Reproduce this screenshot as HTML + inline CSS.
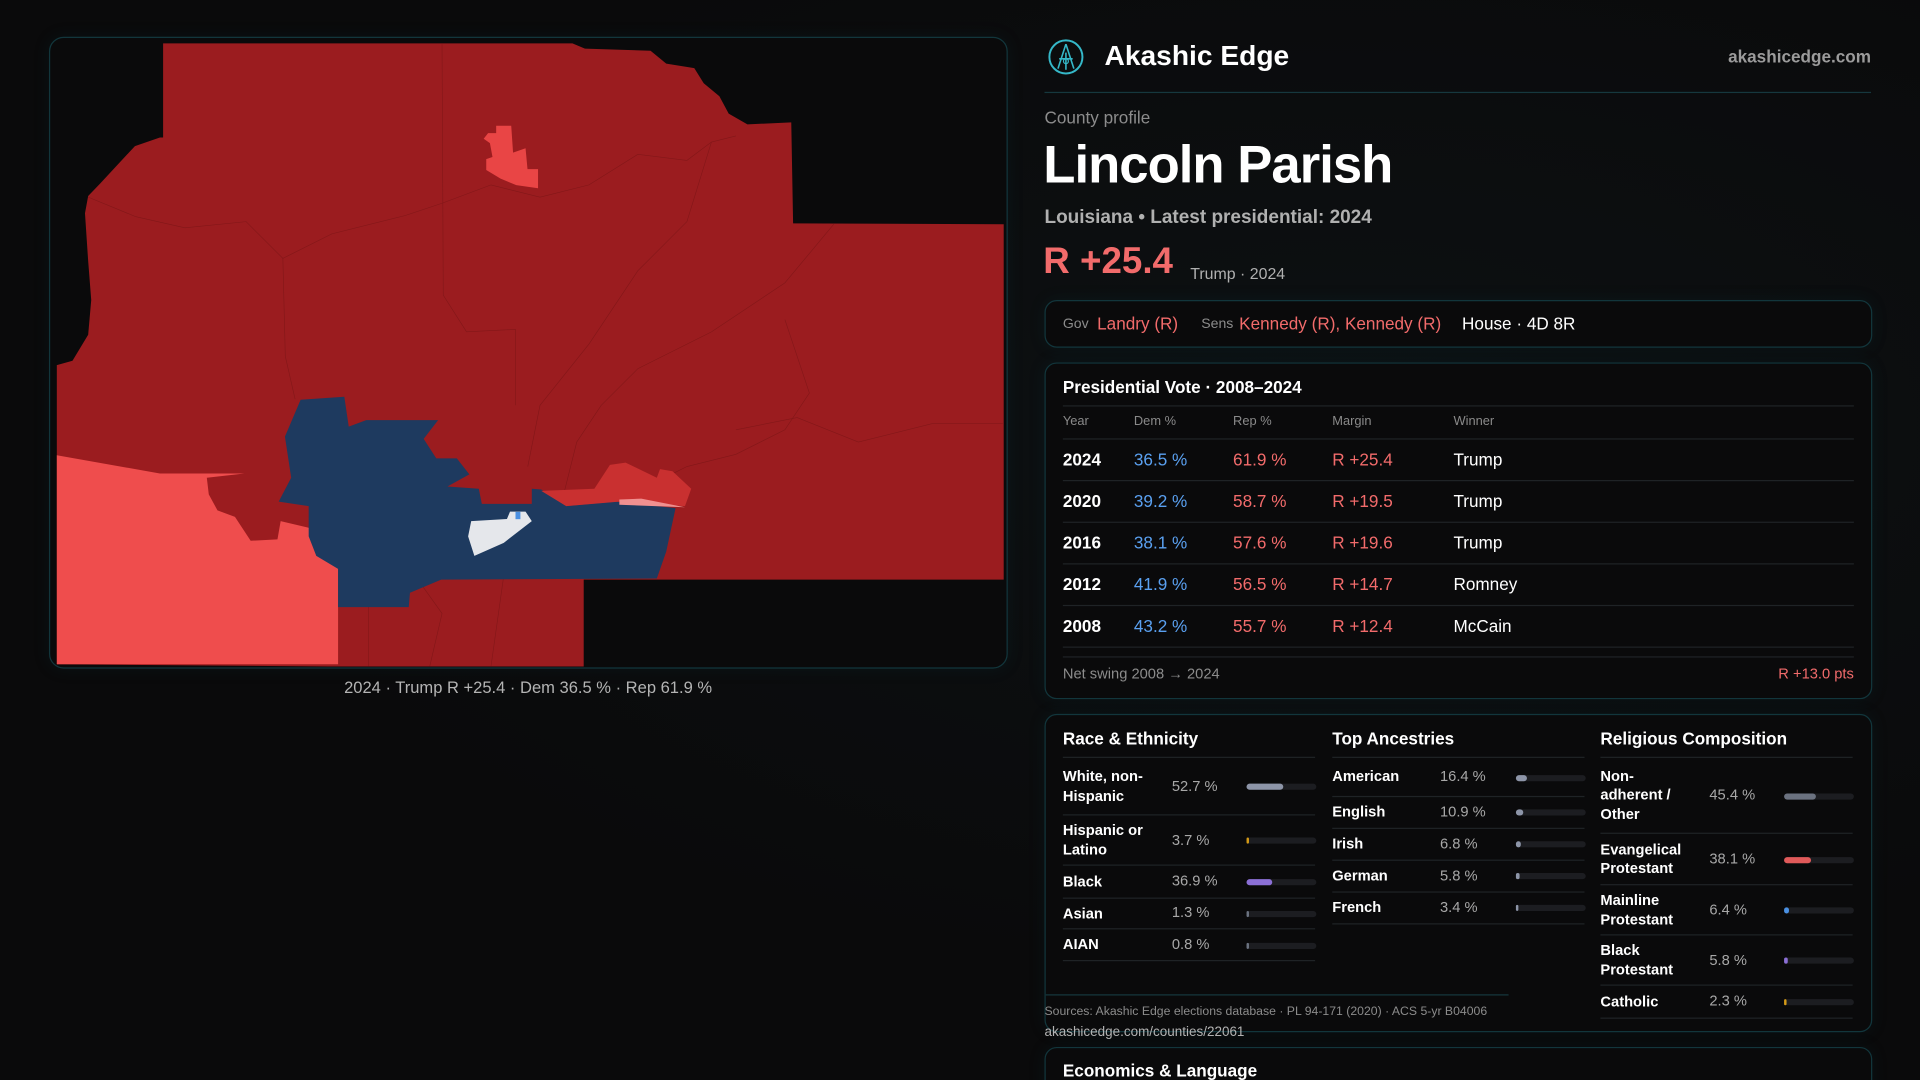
<!DOCTYPE html>
<html><head><meta charset="utf-8"><style>
html,body{margin:0;padding:0;background:#0a0a0b;width:1920px;height:1080px;overflow:hidden}
#root{position:absolute;left:0;top:0;width:1568px;height:882px;overflow:hidden;transform:scale(1.224490);transform-origin:0 0;font-family:"Liberation Sans",sans-serif;color:#fff;background:radial-gradient(ellipse at 70% 40%,#0d1113 0%,#0a0a0b 60%)}
.a{position:absolute;white-space:nowrap}
.box{position:absolute;border:1px solid #12363c;border-radius:10px;background:#0a0a0b;box-shadow:0 0 14px rgba(20,80,90,.12)}
.hl{position:absolute;height:1px;background:#1f2326}
.red{color:#f26b6b}.blue{color:#5aa0f0}.gray{color:#8c8c8c}
</style></head><body>
<div id="root">

<div class="box" style="left:40px;top:30px;width:781px;height:514px;border-radius:12px;background:#0a0a0b">
<svg width="781" height="514" viewBox="40 30 781 514" style="position:absolute;left:0;top:0">
<polygon fill="#9b1c1f" points="132.2,34.4 466.5,34.4 476.7,38.7 530.3,40.4 543.1,51 566,54.6 573.7,67 586.5,77.6 594.1,91.8 609.4,100.6 645.2,98.9 646.7,181.4 818.7,182.1 818.7,472.4 475.7,472.4 475.7,543.3 267.5,543.3 45.4,541.5 45.4,297.2 58.2,293.6 71,272.4 73.5,244 71,212.2 68.4,173.2 71,159.1 81.2,148.4 109.2,118.3 129.6,111.3 132.2,111.3"/>
<g fill="none" stroke="#831719" stroke-width="0.5">
<path d="M71,160 L110,176 L150,185 L200,180 L230,210 L270,190 L330,175 L360,165 L400,150 L440,160 L480,150 L520,125 L560,130 L580,115 L600,110"/>
<path d="M360,35 L361,240 L380,270 L420,268 L420,330"/>
<path d="M230,210 L232,290 L240,325"/>
<path d="M580,115 L560,180 L520,220 L480,280 L440,330 L430,380"/>
<path d="M680,182 L640,230 L580,270 L520,300 L490,330 L470,360 L460,400"/>
<path d="M640,260 L660,320 L640,350 L600,370 L560,380 L540,390"/>
<path d="M600,350 L650,340 L700,360 L760,345 L818,345"/>
<path d="M300,472 L300,543 M340,472 L360,500 L350,543 M410,472 L400,543"/>
</g>
<polygon fill="#ef4d4d" points="45.4,370.8 129.6,385.7 198.6,385.7 167.9,389.2 169.5,402.7 176.6,415.8 190.9,421.1 203.7,440.6 225.6,439.5 228.2,424.6 251.1,430 275.1,463.6 275.1,541.5 45.4,541.5"/>
<polygon fill="#e94545" points="404.2,101.7 416.5,101.7 418,123.6 428.2,120.1 429.8,137.1 438.4,137.1 438.4,152.7 420.6,150.2 407.8,144.9 396.1,137.8 396.1,129 401.2,127.2 399.1,115.9 394,112.3 397.6,107.7 404.2,107.7"/>
<polygon fill="#1e3a5f" points="244.5,325.5 280.2,323 283.8,347.4 298.1,342.1 356.8,342.1 345,357.4 355.3,373.3 372.1,373.3 382.3,386.4 364.4,396.3 390,398.1 392.5,410.5 433.3,410.5 433.3,398.1 441,398.8 461.4,412.3 502.2,408.7 550.7,414 543.1,449.4 535.4,471.4 359.3,472.4 333.8,483.1 332.8,494.8 275.1,494.8 275.1,463.6 257.3,453 251.1,437 251.1,412.3 226.6,408.7 236.8,389.2 231.7,355.6"/>
<polygon fill="#c93030" points="441,399.9 484.4,398.1 497.1,378.6 509.9,376.8 535.4,389.2 538,382.1 548.2,383.9 563.5,398.1 558.4,412.3 504.8,408.7 461.4,412.3"/>
<polygon fill="#f09090" points="504.8,406.9 522.7,406.2 558.4,413.3 504.8,411.2"/>
<polygon fill="#e5e7eb" points="383.8,424.6 413,422.9 415.5,416.8 428.2,416.8 433.3,424.6 410.4,442.3 386.4,453 381.3,437"/>
<rect x="420" y="417" width="4" height="6" fill="#4a90e2"/>
</svg>
</div>
<div class="a" style="left:281px;top:554px;font-size:13.5px;color:#b4b4b4">2024 · Trump R +25.4 · Dem 36.5 % · Rep 61.9 %</div>

<svg class="a" style="left:855px;top:31px" width="31" height="31" viewBox="0 0 31 31"><circle cx="15.5" cy="15.5" r="13.5" fill="none" stroke="#35b8c8" stroke-width="1.6"/><path d="M15.5 5 L9 25 M15.5 5 L22 25 M10 17 L21 17 M15.5 12 L15.5 26" stroke="#35b8c8" stroke-width="1.3" fill="none"/><circle cx="15.5" cy="19" r="2" fill="none" stroke="#35b8c8"/></svg>
<div class="a" style="left:902px;top:32px;font-size:23px;font-weight:bold">Akashic Edge</div>
<div class="a" style="right:40px;top:38px;font-size:14px;font-weight:bold;color:#9b9b9b">akashicedge.com</div>
<div class="hl" style="left:853px;top:75px;width:675px;background:#16383e"></div>
<div class="a gray" style="left:853px;top:88px;font-size:14px">County profile</div>
<div class="a" style="left:852px;top:111px;font-size:43px;font-weight:bold;letter-spacing:-0.8px">Lincoln Parish</div>
<div class="a" style="left:853px;top:169px;font-size:15.5px;font-weight:bold;color:#b0b0b0">Louisiana • Latest presidential: 2024</div>
<div class="a red" style="left:852px;top:197px;font-size:30px;font-weight:bold">R +25.4</div>
<div class="a" style="left:972px;top:216px;font-size:13px;color:#b0b0b0">Trump · 2024</div>

<div class="box" style="left:853px;top:245px;width:674px;height:37px">
<span class="a gray" style="left:14px;top:13px;font-size:11.5px">Gov</span>
<span class="a red" style="left:42px;top:10px;font-size:14px">Landry (R)</span>
<span class="a gray" style="left:127px;top:13px;font-size:11.5px">Sens</span>
<span class="a red" style="left:158px;top:10px;font-size:14px">Kennedy (R), Kennedy (R)</span>
<span class="a" style="left:340px;top:10px;font-size:14px">House · 4D 8R</span>
</div>

<div class="box" style="left:853px;top:296px;width:674px;height:273px">
<div class="a" style="left:14px;top:11px;font-size:14px;font-weight:bold">Presidential Vote · 2008–2024</div>
<div class="hl" style="left:14px;top:34px;width:646px"></div>
<div id="voteTable"></div>
<div class="hl" style="left:14px;top:239px;width:646px"></div>
<div class="a gray" style="left:14px;top:246px;font-size:12px">Net swing 2008 → 2024</div>
<div class="a red" style="right:14px;top:246px;font-size:12px">R +13.0 pts</div>
</div>

<div class="box" style="left:853px;top:583px;width:674px;height:258px">
<div id="demo"></div>
<div class="hl" style="left:0;top:228px;width:378px;background:#16383e"></div>
</div>
<div class="a gray" style="left:853px;top:821px;font-size:10px">Sources: Akashic Edge elections database · PL 94-171 (2020) · ACS 5-yr B04006</div>
<div class="a" style="left:853px;top:837px;font-size:11px;color:#b4b4b4">akashicedge.com/counties/22061</div>
<div class="box" style="left:853px;top:855px;width:674px;height:60px">
<div class="a" style="left:14px;top:10px;font-size:14px;font-weight:bold">Economics &amp; Language</div>
</div>
</div>
<script>
const years=["2024","2020","2016","2012","2008"];
const demPct=[36.5,39.2,38.1,41.9,43.2];
const repPct=[61.9,58.7,57.6,56.5,55.7];
const margins=[25.4,19.5,19.6,14.7,12.4];
const winners=["Trump","Trump","Trump","Romney","McCain"];

const raceLabels=["White, non-\nHispanic","Hispanic or\nLatino","Black","Asian","AIAN"];
const raceValues=[52.7,3.7,36.9,1.3,0.8];
const raceColors=["#8d95a8","#d49a17","#8b6fd6","#6b7280","#6b7280"];
const ancLabels=["American","English","Irish","German","French"];
const ancValues=[16.4,10.9,6.8,5.8,3.4];
const relLabels=["Non-\nadherent /\nOther","Evangelical\nProtestant","Mainline\nProtestant","Black\nProtestant","Catholic"];
const relValues=[45.4,38.1,6.4,5.8,2.3];
const relColors=["#6b7280","#e05a5a","#4a90e2","#8b6fd6","#d49a17"];

function el(parent,css,text){const d=document.createElement('div');d.className='a';d.style.cssText=css;if(text!==undefined)d.textContent=text;parent.appendChild(d);return d;}

const vt=document.getElementById('voteTable');
const hdrX=[14,72,153,234,333],hdrs=["Year","Dem %","Rep %","Margin","Winner"];
hdrs.forEach((h,i)=>{const d=el(vt,`left:${hdrX[i]}px;top:41px;font-size:10.5px;color:#8a8a8a`,h);

});
el(vt,'left:14px;top:61px;width:646px;height:1px;background:#1f2326');
years.forEach((y,i)=>{const top=62+i*34;
const row=el(vt,`left:0;top:${top}px;width:674px;height:34px`);


el(row,'left:14px;top:8px;font-size:14px;font-weight:bold;color:#fff',y);
el(row,'left:72px;top:8px;font-size:14px;color:#5aa0f0',demPct[i].toFixed(1)+' %');
el(row,'left:153px;top:8px;font-size:14px;color:#f26b6b',repPct[i].toFixed(1)+' %');
el(row,`left:234px;top:8px;font-size:14px;color:#f26b6b`,'R +'+margins[i].toFixed(1));
el(row,'left:333px;top:8px;font-size:14px;color:#fff',winners[i]);
el(row,'left:14px;top:33px;width:646px;height:1px;background:#1f2326');
});

const demo=document.getElementById('demo');
function col(x,title,labels,values,colors,rowH,valX,barX,name){
const t=el(demo,`left:${x}px;top:11px;font-size:14px;font-weight:bold`,title);


el(demo,`left:${x}px;top:34px;width:206px;height:1px;background:#1f2326`);
let y=35;
labels.forEach((lb,i)=>{const h=rowH[i];
const r=el(demo,`left:${x}px;top:${y}px;width:206px;height:${h}px`);


const lines=lb.split('\n');
el(r,`left:0;top:${(h-lines.length*15.5)/2}px;font-size:12px;font-weight:bold;line-height:15.5px;white-space:pre;color:#fff`,lb);
el(r,`left:${valX}px;top:${h/2-8}px;font-size:12px;color:#a8a8a8`,values[i].toFixed(1)+' %');
const track=el(r,`left:${barX}px;top:${h/2-2.5}px;width:57px;height:5px;border-radius:3px;background:#1c1d21`);
const w=Math.max(1.5,57*values[i]/100);
const bar=el(track,`left:0;top:0;width:${w}px;height:5px;border-radius:3px;background:${colors[i]}`);


el(r,`left:0;top:${h-1}px;width:206px;height:1px;background:#1f2326`);
y+=h;});
}
col(14,"Race & Ethnicity",raceLabels,raceValues,raceColors,[47,41,26.5,25.5,26],89,150,'race');
col(234,"Top Ancestries",ancLabels,ancValues,ancLabels.map(()=>"#8d95a8"),[32,25.6,26.1,26.1,26.1],88,150,'ancestry');
col(453,"Religious Composition",relLabels,relValues,relColors,[62,42,41,41,26.6],89,150,'religion');
</script>
</body></html>
